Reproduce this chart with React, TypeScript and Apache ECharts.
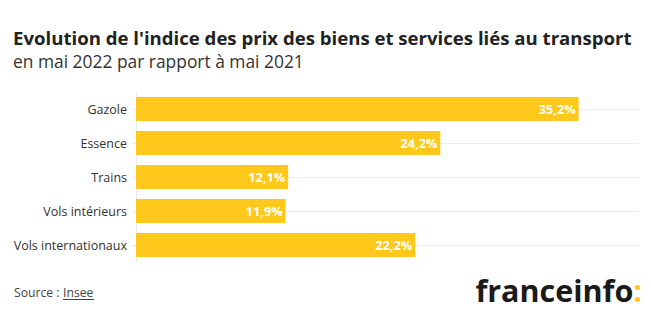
import React, { useEffect, useRef } from "react";
import * as echarts from "echarts";

const categories = ["Gazole", "Essence", "Trains", "Vols intérieurs", "Vols internationaux"];
const values = [35.2, 24.2, 12.1, 11.9, 22.2];

const FONT = "'Open Sans', 'Noto Sans', sans-serif";

export default function App() {
  const ref = useRef<HTMLDivElement>(null);
  useEffect(() => {
    const chart = echarts.init(ref.current!, null, { renderer: "svg" });
    chart.setOption({
      animation: false,
      backgroundColor: "#ffffff",
      textStyle: { fontFamily: FONT },
      grid: { left: 136, right: 12, top: 92, bottom: 64, containLabel: false },
      xAxis: {
        type: "value",
        min: 0,
        max: 40,
        show: false,
      },
      yAxis: {
        type: "category",
        data: categories,
        inverse: true,
        axisLine: { show: true, lineStyle: { color: "#e8e8e8", width: 1 } },
        axisTick: { show: true, alignWithLabel: true, length: 4, lineStyle: { color: "#e8e8e8" } },
        axisLabel: { color: "#333333", fontSize: 12.5, margin: 9, fontFamily: FONT },
        splitLine: { show: false },
      },
      series: [
        {
          type: "bar",
          data: values,
          barCategoryGap: "29%",
          itemStyle: { color: "#FFC81A" },
          z: 3,
          label: {
            show: true,
            position: "insideRight",
            distance: 3,
            color: "#ffffff",
            fontWeight: "bold",
            fontSize: 12.7,
            fontFamily: FONT,
            formatter: (p: any) => String(p.value).replace(".", ",") + "%",
          },
          markLine: {
            silent: true,
            symbol: "none",
            z: 1,
            label: { show: false },
            lineStyle: { color: "#ebebeb", type: "solid", width: 1 },
            data: categories.map((c) => ({ yAxis: c })),
          },
        },
      ],
      graphic: [
        {
          type: "text",
          left: 13,
          top: 28,
          style: {
            text: "Evolution de l'indice des prix des biens et services liés au transport",
            fontSize: 18.6,
            lineHeight: 19,
            fontWeight: "bold",
            fill: "#222222",
            fontFamily: FONT,
          },
        },
        {
          type: "text",
          left: 13,
          top: 52,
          style: {
            text: "en mai 2022 par rapport à mai 2021",
            fontSize: 17.4,
            lineHeight: 18,
            fill: "#333333",
            fontFamily: FONT,
          },
        },
        {
          type: "text",
          left: 14,
          top: 286,
          style: {
            text: "Source :",
            fontSize: 12.2,
            fill: "#444444",
            fontFamily: FONT,
          },
        },
        {
          type: "text",
          left: 63,
          top: 286,
          style: {
            text: "Insee",
            fontSize: 12.2,
            fill: "#444444",
            fontFamily: FONT,
          },
        },
        {
          type: "line",
          shape: { x1: 63, y1: 299.5, x2: 94, y2: 299.5 },
          style: { stroke: "#444444", lineWidth: 1 },
        },
        {
          type: "text",
          right: 9,
          top: 274,
          style: {
            text: "{a|franceinfo}{b|:}",
            rich: {
              a: { fontSize: 30.5, fontWeight: "bold", fill: "#1a1a1a", fontFamily: FONT },
              b: { fontSize: 30.5, fontWeight: "bold", fill: "#FFC81A", fontFamily: FONT },
            },
          },
        },
      ],
    });
    return () => chart.dispose();
  }, []);
  return <div ref={ref} style={{ width: 651, height: 326, margin: -8 }} />;
}
